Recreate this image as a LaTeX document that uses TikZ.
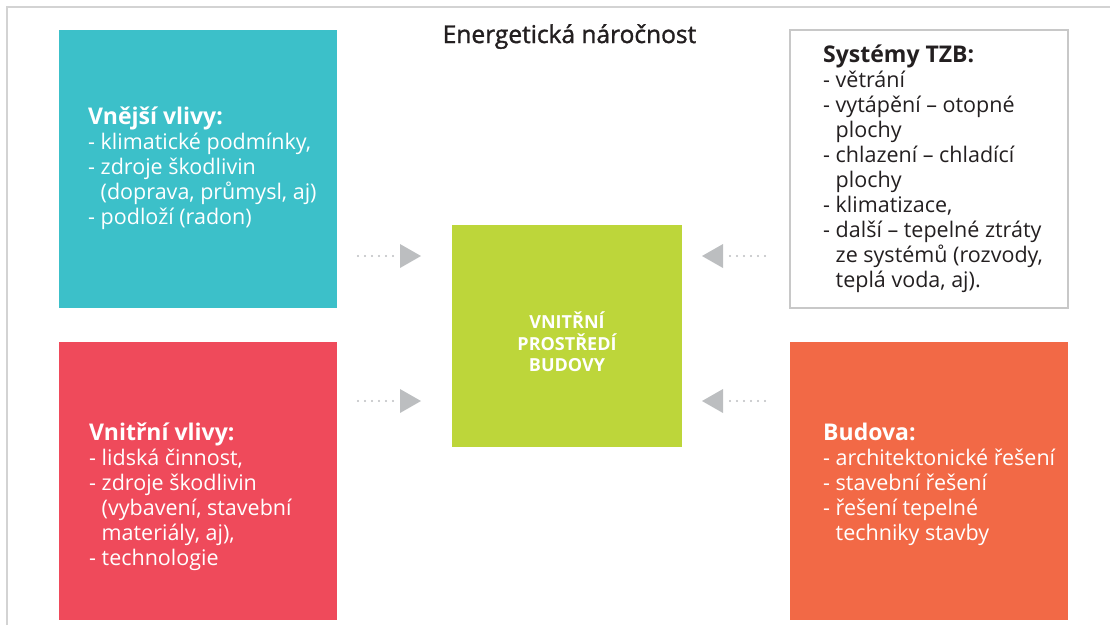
\documentclass[tikz,border=0pt]{standalone}
\usepackage{fontspec}
\setmainfont{Open Sans}
\newfontfamily\titulek[FakeBold=1.4]{Open Sans}
\usetikzlibrary{arrows.meta,positioning}

\definecolor{tyrkys}{HTML}{3CC0C9}
\definecolor{cervena}{HTML}{EF4A5B}
\definecolor{zelena}{HTML}{BDD63A}
\definecolor{oranz}{HTML}{F26946}
\definecolor{sipka}{HTML}{BCBEC0}
\definecolor{ramecek}{HTML}{D3D3D3}
\definecolor{okraj}{HTML}{C8C8C8}
\definecolor{tmava}{HTML}{231F20}

\newcommand{\nadpis}[1]{{\bfseries\fontsize{23}{25}\selectfont #1}}

\begin{document}
\begin{tikzpicture}[x=1pt,y=-1pt]
	\tikzstyle{box}
	  =[rectangle, minimum width=278pt, minimum height=278pt,
	  inner sep=0pt, outer sep=0pt, anchor=north west]
	\tikzstyle{popis}
	  =[align=left, inner sep=0pt, anchor=base west, text=white,
	  font=\fontsize{21.5}{25}\selectfont]
	\tikzstyle{tok}
	  =[draw=sipka, line width=2.2pt, line cap=round,
	  dash pattern=on 0pt off 7pt,
	  -{Triangle[length=21pt,width=24pt,line width=0pt,fill=sipka]}]

	\useasboundingbox (0,0) rectangle (1110,625);
	\draw[ramecek, line width=1.5pt] (7,625)--(7,7)--(1110,7);

	\node[box, fill=tyrkys] (vnejsi) at (59,30) {};
	\node[box, fill=cervena] (vnitrni)
	  [below=34pt of vnejsi] {};
	\node[box, draw=okraj, line width=1.3pt] (tzb) at (790,30) {};
	\node[box, fill=oranz] (budova)
	  [below=34pt of tzb] {};
	\node[box, fill=zelena, minimum width=230pt, minimum height=222pt]
	  (stred) at (452,225) {};

	\node[anchor=base, text=tmava] (nazev) at (569.5,43)
	  {\titulek\fontsize{24.5}{25}\selectfont Energetická náročnost};

	% base = last line
	\node[popis] (vnejsi_txt) at (88,224)
	  {\nadpis{Vnější vlivy:}\\
	  - klimatické podmínky,\\
	  - zdroje škodlivin\\
	  \phantom{- }(doprava, průmysl, aj)\\
	  - podloží (radon)};
	\node[popis] (vnitrni_txt) at (89,565)
	  {\nadpis{Vnitřní vlivy:}\\
	  - lidská činnost,\\
	  - zdroje škodlivin\\
	  \phantom{- }(vybavení, stavební\\
	  \phantom{- }materiály, aj),\\
	  - technologie};
	\node[popis, text=tmava] (tzb_txt) at (823,287)
	  {\nadpis{Systémy TZB:}\\
	  - větrání\\
	  - vytápění – otopné\\
	  \phantom{- }plochy\\
	  - chlazení – chladící\\
	  \phantom{- }plochy\\
	  - klimatizace,\\
	  - další – tepelné ztráty\\
	  \phantom{- }ze systémů (rozvody,\\
	  \phantom{- }teplá voda, aj).};
	\node[popis] (budova_txt) at (823,540)
	  {\nadpis{Budova:}\\
	  - architektonické řešení\\
	  - stavební řešení\\
	  - řešení tepelné\\
	  \phantom{- }techniky stavby};
	\node[align=center, text=white, inner sep=0pt,
	  font=\bfseries\fontsize{18}{21.5}\selectfont] (stred_txt)
	  at (567,342) {VNITŘNÍ\\PROSTŘEDÍ\\BUDOVY};

	\coordinate (radA) at (0,256);
	\coordinate (radB) at (0,401);
	\draw[tok, shorten <=21pt, shorten >=31pt]
	  (vnejsi.east |- radA)--(stred.west |- radA);
	\draw[tok, shorten <=21pt, shorten >=31pt]
	  (vnitrni.east |- radB)--(stred.west |- radB);
	\draw[tok, shorten <=25pt, shorten >=20pt]
	  (tzb.west |- radA)--(stred.east |- radA);
	\draw[tok, shorten <=25pt, shorten >=20pt]
	  (budova.west |- radB)--(stred.east |- radB);
\end{tikzpicture}
\end{document}
